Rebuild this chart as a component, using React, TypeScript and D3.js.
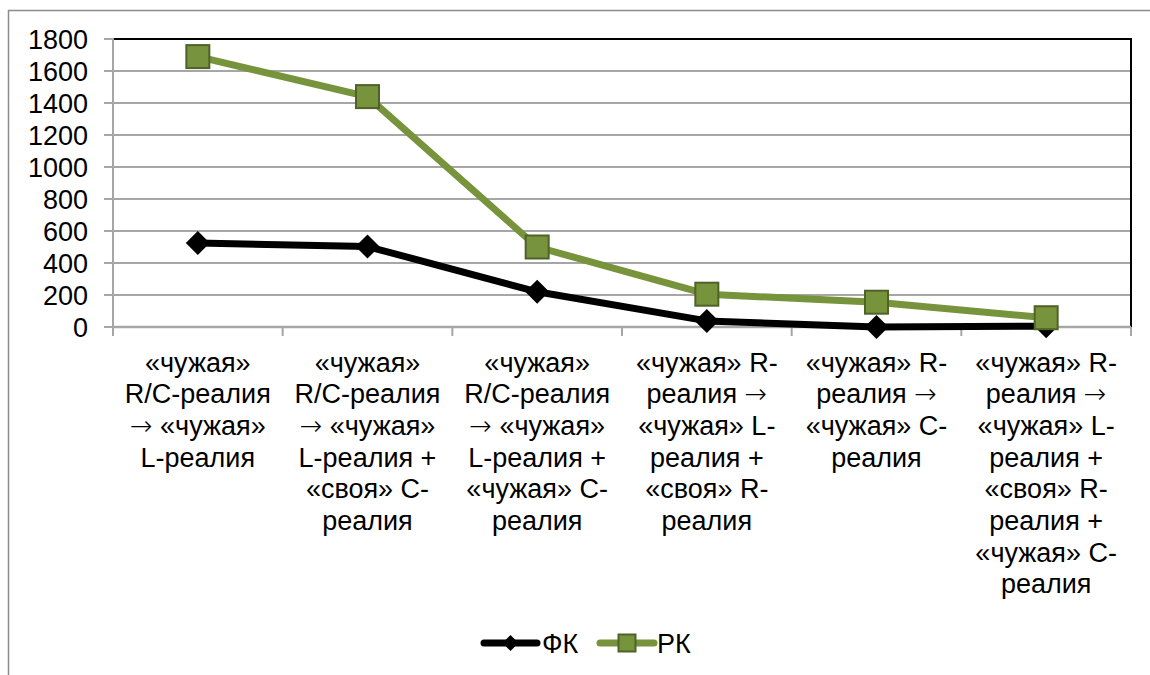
import React from "react";
import * as d3 from "d3";

const categories: string[] = [
  "«чужая»\nR/C-реалия\n→ «чужая»\nL-реалия",
  "«чужая»\nR/C-реалия\n→ «чужая»\nL-реалия +\n«своя» C-\nреалия",
  "«чужая»\nR/C-реалия\n→ «чужая»\nL-реалия +\n«чужая» C-\nреалия",
  "«чужая» R-\nреалия →\n«чужая» L-\nреалия +\n«своя» R-\nреалия",
  "«чужая» R-\nреалия →\n«чужая» C-\nреалия",
  "«чужая» R-\nреалия →\n«чужая» L-\nреалия +\n«своя» R-\nреалия +\n«чужая» C-\nреалия",
];
const fkValues: number[] = [525, 503, 220, 38, 0, 5];
const rkValues: number[] = [1690, 1440, 500, 205, 155, 58];
const yTicks: number[] = [0, 200, 400, 600, 800, 1000, 1200, 1400, 1600, 1800];
const seriesNames: string[] = ["ФК", "РК"];

const W = 1150;
const H = 675;
const left = 113;
const right = 1131;
const top = 39;
const bottom = 327;
const FONT = "'Liberation Sans', Arial, sans-serif";
const ARROW_FONT = "'DejaVu Sans', sans-serif";
const GREEN = "#77933C";
const GREEN_DARK = "#4F6228";
const FS = 27;

function renderLine(ln: string) {
  const parts = ln.split("→");
  const out: React.ReactNode[] = [];
  parts.forEach((p, k) => {
    if (k > 0) {
      out.push(
        <tspan key={"a" + k} fontFamily={ARROW_FONT} fontWeight={300}>
          →
        </tspan>
      );
    }
    if (p) out.push(<tspan key={"p" + k}>{p}</tspan>);
  });
  return out;
}

export default function App() {
  const x = d3.scaleBand<number>().domain(d3.range(categories.length)).range([left, right]).padding(0);
  const y = d3.scaleLinear().domain([0, 1800]).range([bottom, top]);
  const cx = (i: number) => (x(i) as number) + x.bandwidth() / 2;
  const line = d3.line<number>().x((_, i) => cx(i)).y((d) => y(d));
  const diamond = (px: number, py: number, r: number) =>
    `M${px},${py - r}L${px + r},${py}L${px},${py + r}L${px - r},${py}Z`;
  const boundaries = d3.range(categories.length + 1).map((i) =>
    i < categories.length ? (x(i) as number) : right
  );
  const lineH = 31.7;

  return (
    <svg width={W} height={H} style={{ position: "absolute", left: 0, top: 0, background: "#fff" }}>
      <rect x={0} y={0} width={W} height={H} fill="#fff" />
      {/* outer chart border */}
      <path d={`M8.5,${H + 5}V10.5H${W + 5}`} fill="none" stroke="#8c8c8c" strokeWidth={1.5} />
      {/* gridlines */}
      {yTicks.map((t) => (
        <line key={t} x1={left} x2={right} y1={y(t)} y2={y(t)} stroke="#a6a6a6" strokeWidth={2} />
      ))}
      {/* plot border */}
      <rect x={left} y={top} width={right - left} height={bottom - top} fill="none" stroke="#000" strokeWidth={2} />
      {/* axes */}
      <line x1={left} x2={left} y1={top - 1} y2={bottom} stroke="#a6a6a6" strokeWidth={2} />
      <line x1={left} x2={right} y1={bottom} y2={bottom} stroke="#a6a6a6" strokeWidth={2.5} />
      {yTicks.map((t) => (
        <line key={"yt" + t} x1={left - 9} x2={left} y1={y(t)} y2={y(t)} stroke="#a6a6a6" strokeWidth={2} />
      ))}
      {boundaries.map((b, i) => (
        <line key={"xt" + i} x1={b} x2={b} y1={bottom} y2={bottom + 9} stroke="#a6a6a6" strokeWidth={2} />
      ))}
      {/* y labels */}
      {yTicks.map((t) => (
        <text key={"yl" + t} x={88} y={y(t) + 9.7} textAnchor="end" fontFamily={FONT} fontSize={FS} fill="#000">
          {t}
        </text>
      ))}
      {/* x labels */}
      {categories.map((c, i) => (
        <text key={"xl" + i} textAnchor="middle" fontFamily={FONT} fontSize={FS} fill="#000">
          {c.split("\n").map((ln, j) => (
            <tspan key={j} x={cx(i)} y={371.5 + j * lineH}>
              {renderLine(ln)}
            </tspan>
          ))}
        </text>
      ))}
      {/* ФК series */}
      <path d={line(fkValues) || ""} fill="none" stroke="#000" strokeWidth={7} strokeLinejoin="round" />
      {fkValues.map((v, i) => (
        <path key={"fk" + i} d={diamond(cx(i), y(v), 12)} fill="#000" />
      ))}
      {/* РК series */}
      <path d={line(rkValues) || ""} fill="none" stroke={GREEN} strokeWidth={7} strokeLinejoin="round" />
      {rkValues.map((v, i) => (
        <rect key={"rk" + i} x={cx(i) - 11.5} y={y(v) - 11.5} width={23} height={23} fill={GREEN} stroke={GREEN_DARK} strokeWidth={2} />
      ))}
      {/* legend */}
      <g>
        <line x1={484} x2={537} y1={643} y2={643} stroke="#000" strokeWidth={7} strokeLinecap="round" />
        <path d={diamond(510.5, 643, 8)} fill="#000" />
        <text x={542} y={652.5} fontFamily={FONT} fontSize={FS} fill="#000">{seriesNames[0]}</text>
        <line x1={600} x2={654} y1={643} y2={643} stroke={GREEN} strokeWidth={7} strokeLinecap="round" />
        <rect x={618.5} y={634.5} width={17} height={17} fill={GREEN} stroke={GREEN_DARK} strokeWidth={2} />
        <text x={657} y={652.5} fontFamily={FONT} fontSize={FS} fill="#000">{seriesNames[1]}</text>
      </g>
    </svg>
  );
}
